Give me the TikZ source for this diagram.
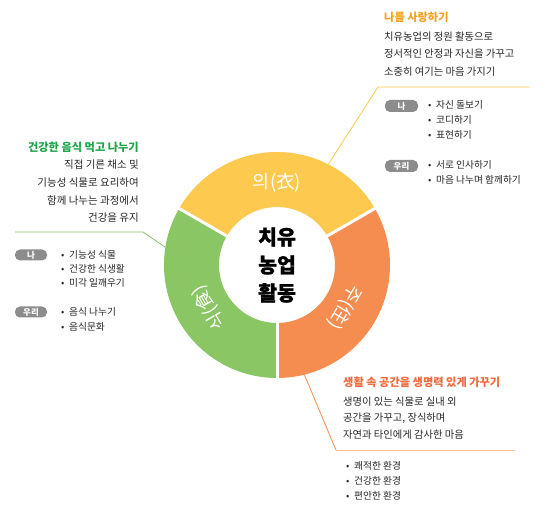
\documentclass[tikz,border=0pt]{standalone}
\usepackage{fontspec}
\setmainfont{Noto Sans CJK KR}
\newfontfamily\heavyfont[BoldFeatures={FakeBold=1.2}]{Noto Sans CJK KR}
\usetikzlibrary{calc}
\definecolor{ringY}{HTML}{FDC94F}
\definecolor{ringG}{HTML}{8BC664}
\definecolor{ringO}{HTML}{F68D50}
\definecolor{titY}{HTML}{F7A21C}
\definecolor{titG}{HTML}{1BA548}
\definecolor{titO}{HTML}{F26A3B}
\definecolor{txt}{HTML}{262626}
\definecolor{badge}{HTML}{8C8C8C}
\definecolor{lineO}{HTML}{F9BE96}
\newcommand\myitem[1]{\makebox[8pt][l]{•}#1}
\tikzset{
 ttl/.style={inner sep=0, font=\fontsize{11.2}{13}\selectfont\bfseries},
 body/.style={inner sep=0, text=txt, font=\fontsize{10.3}{17.5}\selectfont},
 badgebox/.style={fill=badge, rounded corners=5pt, minimum width=33pt, minimum height=12pt, inner sep=0, text=white, font=\fontsize{8.5}{10}\selectfont\bfseries},
 item/.style={inner sep=0, anchor=west, text=txt, font=\fontsize{9.7}{11}\selectfont},
 seglabel/.style={text=white, font=\fontsize{18.5}{20}\selectfont, inner sep=0},
 conn/.style={line width=0.8pt},
}
\begin{document}
\begin{tikzpicture}[x=1pt,y=-1pt]
\useasboundingbox[fill=white] (0,0) rectangle (547,518);
\coordinate (c) at (277,265);
% connector end points
\coordinate (yr) at ($(c)+(-63:113)$);
\coordinate (yk) at (378,87);
\coordinate (ye) at (530,87);
\coordinate (gr) at ($(c)+(-171:113)$);
\coordinate (gk) at (143,232);
\coordinate (ge) at (15,232);
\coordinate (or) at ($(c)+(76:113)$);
\coordinate (ok) at (336,450);
\coordinate (oe) at (515,450);
\draw[conn, ringY] (yr) -- (yk) -- (ye);
\draw[conn, ringG] (gr) -- (gk) -- (ge);
\draw[conn, ringO] (or) -- (ok);
\draw[conn, lineO] (ok) -- (oe);
% ring
\fill[ringY] ($(c)+(-30:113)$) arc[start angle=-30, end angle=-150, radius=113] -- ($(c)+(-150:58)$) arc[start angle=-150, end angle=-30, radius=58] -- cycle;
\fill[ringG] ($(c)+(-150:113)$) arc[start angle=-150, end angle=-270, radius=113] -- ($(c)+(-270:58)$) arc[start angle=-270, end angle=-150, radius=58] -- cycle;
\fill[ringO] ($(c)+(90:113)$) arc[start angle=90, end angle=-30, radius=113] -- ($(c)+(-30:58)$) arc[start angle=-30, end angle=90, radius=58] -- cycle;
\foreach \a in {-30,-150,90} \draw[white, line width=3pt] ($(c)+(\a:55)$) -- ($(c)+(\a:116)$);
\node[seglabel] (lu) at ($(c)+(-90:82)$) {의(衣)};
\node[seglabel, rotate=-120] (lj) at ($(c)+(32:80)$) {주(住)};
\node[seglabel, rotate=120] (ls) at ($(c)+(148:80)$) {식(食)};
\node[inner sep=0, align=center, font=\heavyfont\fontsize{20.5}{28}\selectfont\bfseries] (center) at (c) {치유\\농업\\활동};
% top right block
\node[ttl, text=titY, anchor=west] (t1) at (384,17) {나를 사랑하기};
\node[body, anchor=west, align=left] (b1) at (384,54) {치유농업의 정원 활동으로\\정서적인 안정과 자신을 가꾸고\\소중히 여기는 마음 가지기};
\node[badgebox] (n1) at (401.5,106) {나};
\node[badgebox] (w1) at (401.5,166) {우리};
\node[item] (i11) at (428,105) {\myitem{자신 돌보기}};
\node[item] (i12) at (428,120) {\myitem{코디하기}};
\node[item] (i13) at (428,135) {\myitem{표현하기}};
\node[item] (i14) at (428,165) {\myitem{서로 인사하기}};
\node[item] (i15) at (428,180) {\myitem{마음 나누며 함께하기}};
% left block
\node[ttl, text=titG, anchor=east] (t2) at (139,147) {건강한 음식 먹고 나누기};
\node[body, anchor=east, align=right, font=\fontsize{10.5}{17.7}\selectfont] (b2) at (139,191.5) {직접 기른 채소 및\\기능성 식물로 요리하여\\함께 나누는 과정에서\\건강을 유지};
\node[badgebox, minimum width=32pt, minimum height=11pt] (n2) at (31,255) {나};
\node[badgebox, minimum width=32pt, minimum height=11pt] (w2) at (31,312) {우리};
\node[item] (i21) at (61,255) {\myitem{기능성 식물}};
\node[item] (i22) at (61,269) {\myitem{건강한 식생활}};
\node[item] (i23) at (61,283) {\myitem{미각 일깨우기}};
\node[item] (i24) at (61,312) {\myitem{음식 나누기}};
\node[item] (i25) at (61,327) {\myitem{음식문화}};
% bottom block
\node[ttl, text=titO, anchor=west] (t3) at (343,382) {생활 속 공간을 생명력 있게 가꾸기};
\node[body, anchor=west, align=left, font=\fontsize{10.3}{16.5}\selectfont] (b3) at (343,418) {생명이 있는 식물로 실내 외\\공간을 가꾸고, 장식하며\\자연과 타인에게 감사한 마음};
\node[item] (i31) at (346,466) {\myitem{쾌적한 환경}};
\node[item] (i32) at (346,481) {\myitem{건강한 환경}};
\node[item] (i33) at (346,496) {\myitem{편안한 환경}};
\end{tikzpicture}
\end{document}
